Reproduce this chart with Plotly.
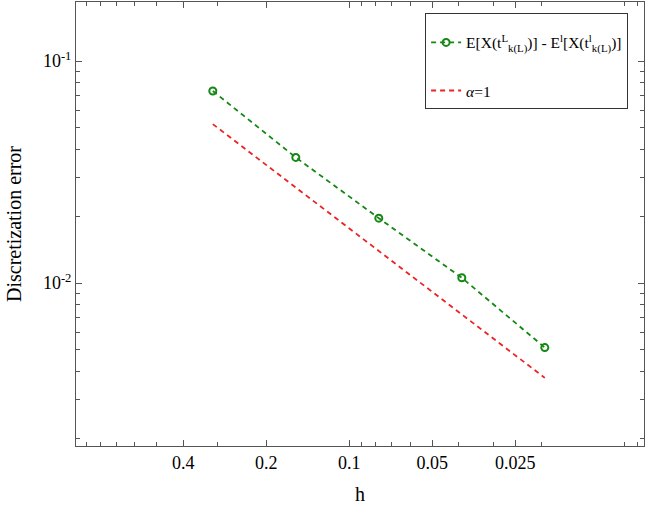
import plotly.graph_objects as go

# Data
h_vals = [0.3125, 0.15625, 0.078125, 0.0390625, 0.01953125]
err_vals = [0.0733, 0.0368, 0.0196, 0.01056, 0.00512]
ref_h = [0.3125, 0.01953125]
ref_vals = [0.0520, 0.00374]

x_tickvals = [0.4, 0.2, 0.1, 0.05, 0.025]
x_ticktext = ["0.4", "0.2", "0.1", "0.05", "0.025"]
x_minor = [0.9, 0.8, 0.7, 0.6, 0.5, 0.3, 0.09, 0.08, 0.07, 0.06, 0.04, 0.03, 0.02, 0.01, 0.009]
y_tickvals = [0.01, 0.1]
y_ticktext = ["10<sup>-2</sup>", "10<sup>-1</sup>"]
y_minor = [0.002, 0.003, 0.004, 0.005, 0.006, 0.007, 0.008, 0.009,
           0.02, 0.03, 0.04, 0.05, 0.06, 0.07, 0.08, 0.09]

green = "rgb(20,135,20)"
red = "rgb(235,35,35)"
axcol = "#555555"
font = "Liberation Serif"

fig = go.Figure()
fig.add_trace(go.Scatter(
    x=h_vals, y=err_vals, mode="lines+markers",
    name="E[X(t<sup>L</sup><sub>k(L)</sub>)] - E<sup>l</sup>[X(t<sup>l</sup><sub>k(L)</sub>)]",
    line=dict(color=green, width=1.8, dash="5px,4px"),
    marker=dict(symbol="circle-open", size=7, color=green, line=dict(width=2, color=green)),
    legendgroup="a",
))
fig.add_trace(go.Scatter(
    x=ref_h, y=ref_vals, mode="lines",
    name="<i>α</i>=1",
    line=dict(color=red, width=1.8, dash="5px,4px"),
    legendgroup="b",
))

axis_common = dict(
    type="log", showgrid=False, zeroline=False, automargin=False,
    showline=True, linecolor=axcol, linewidth=1, mirror="ticks",
    ticks="inside", ticklen=6, tickwidth=1, tickcolor=axcol,
    tickfont=dict(family=font, size=18, color="black"),
)

fig.update_xaxes(
    **axis_common,
    range=[-0.009, -2.069],
    tickmode="array", tickvals=x_tickvals, ticktext=x_ticktext,
    minor=dict(tickmode="array", tickvals=x_minor, ticks="inside", ticklen=4, tickcolor=axcol, showgrid=False),
    title=dict(text="h", font=dict(family=font, size=20, color="black")),
)
fig.update_yaxes(
    **axis_common,
    range=[-2.734, -0.734],
    tickmode="array", tickvals=y_tickvals, ticktext=y_ticktext,
    minor=dict(tickmode="array", tickvals=y_minor, ticks="inside", ticklen=4, tickcolor=axcol, showgrid=False),
    title=dict(text="Discretization error", font=dict(family=font, size=20, color="black")),
)

fig.update_layout(
    width=646, height=505,
    margin=dict(l=76, r=2, t=2, b=59),
    paper_bgcolor="white", plot_bgcolor="white",
    showlegend=True,
    legend=dict(
        x=0.972, y=0.975, xanchor="right", yanchor="top",
        bgcolor="white", bordercolor="#333333", borderwidth=1,
        font=dict(family=font, size=15.5, color="black"),
        title=dict(text="&nbsp;", font=dict(family=font, size=9)),
        traceorder="grouped", tracegroupgap=25,
        itemwidth=30,
    ),
)

fig.write_html("out.html", config={"displayModeBar": False},
               post_script="document.body.style.margin='0px';document.body.style.overflow='hidden';")
